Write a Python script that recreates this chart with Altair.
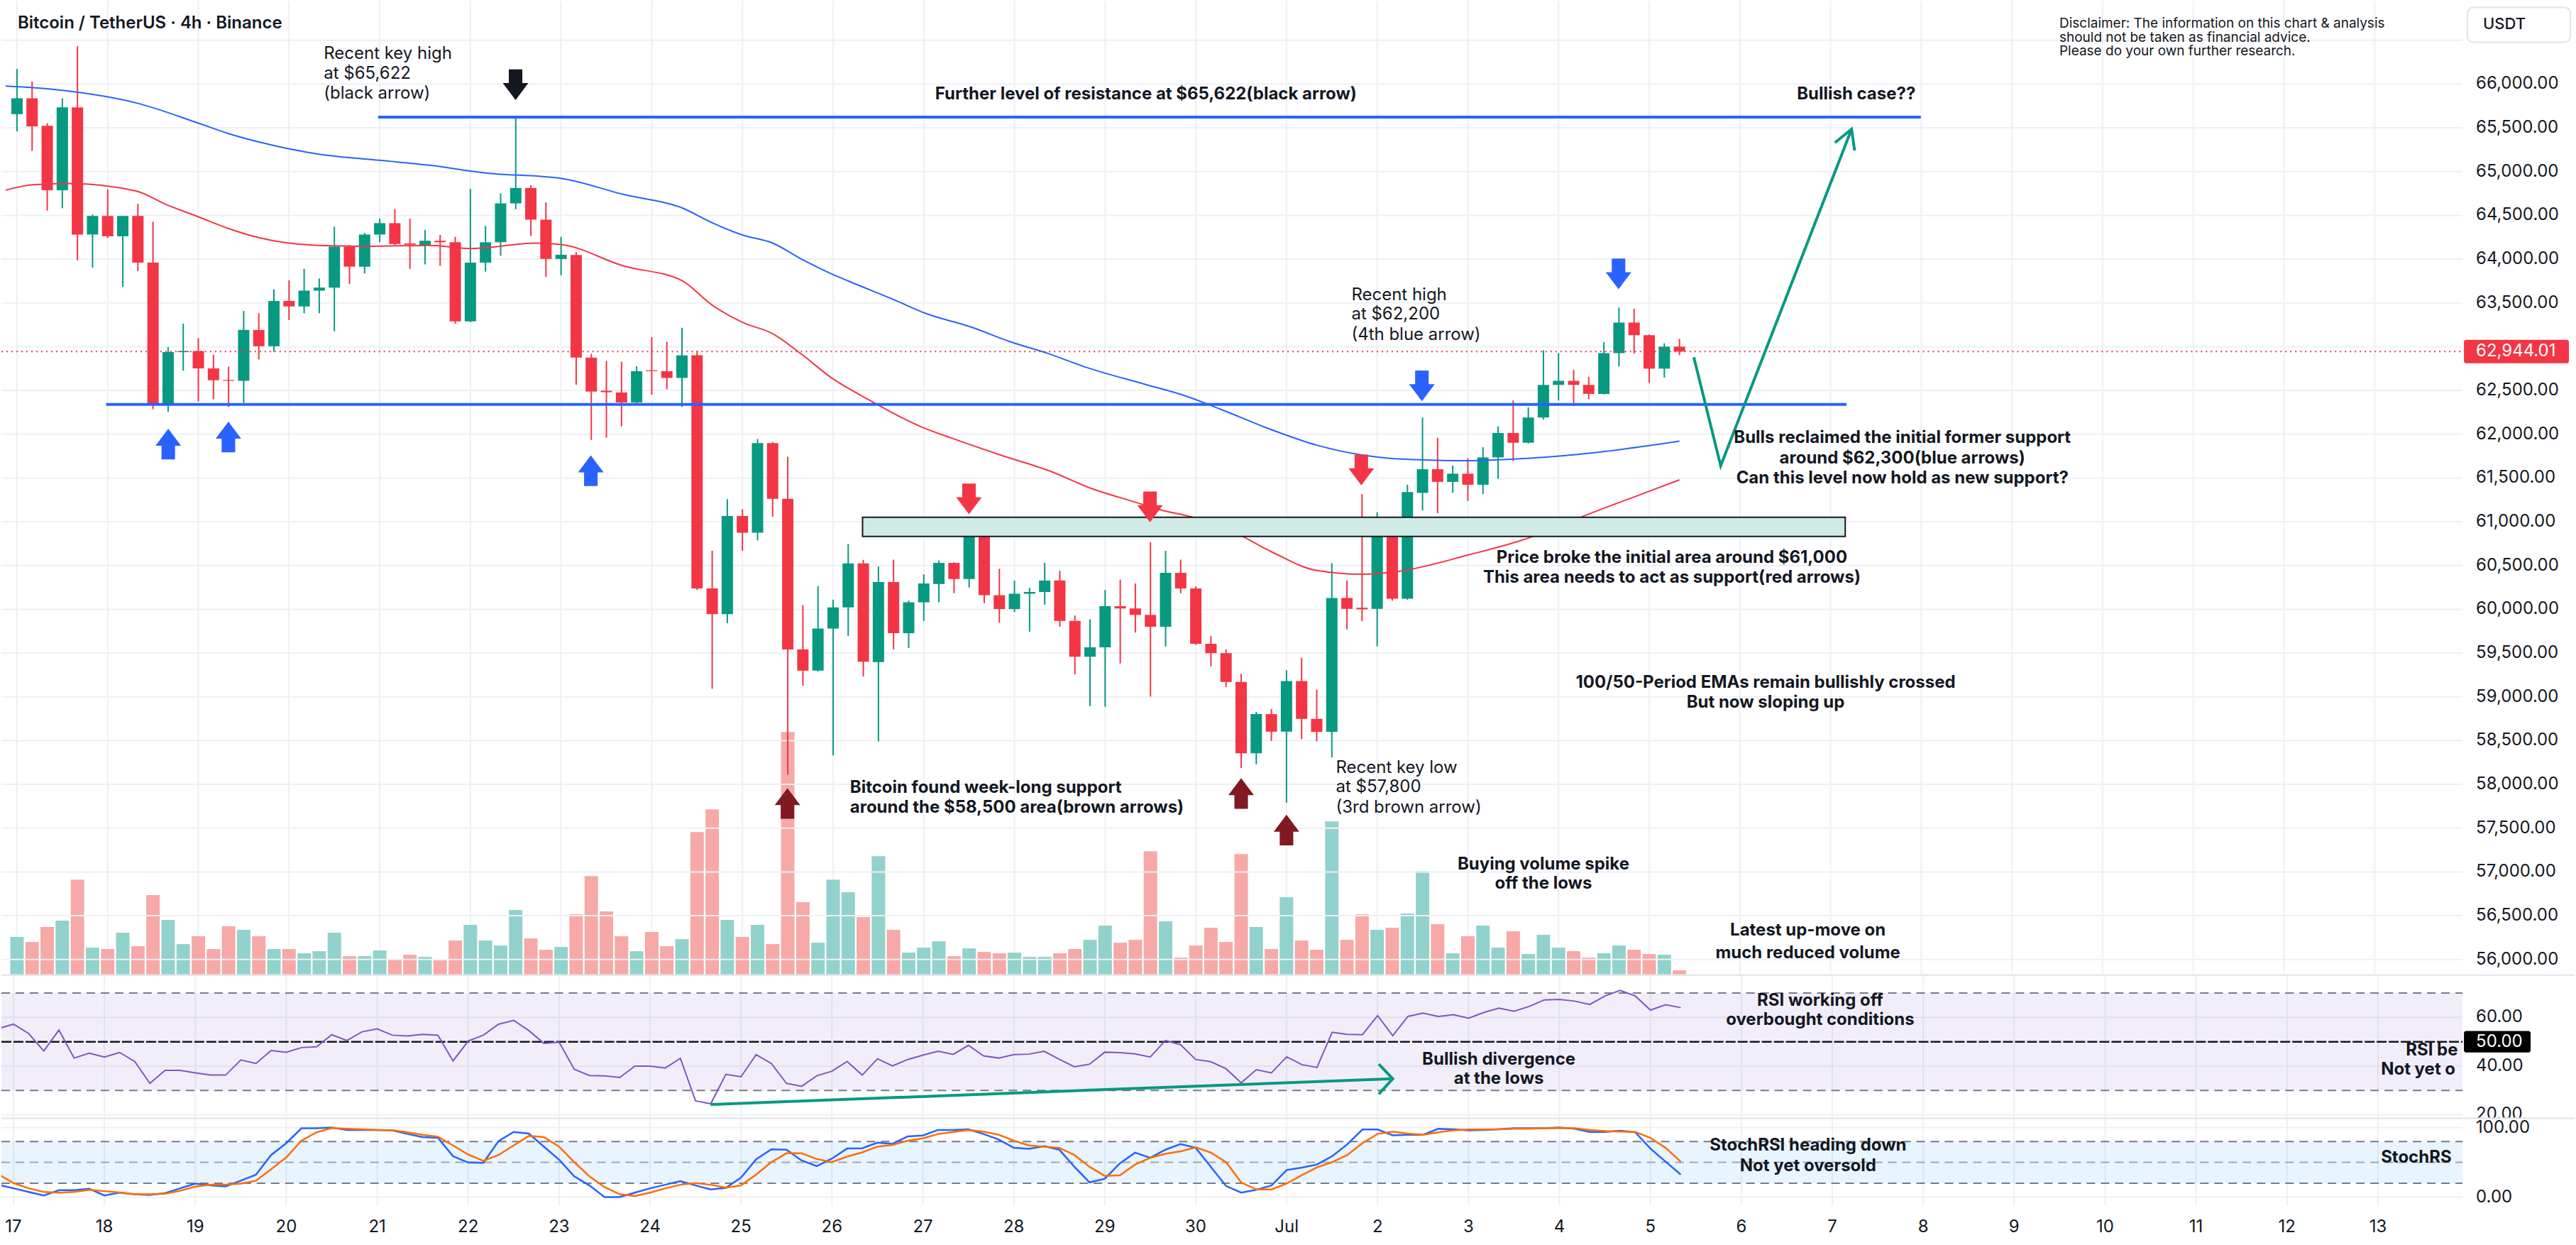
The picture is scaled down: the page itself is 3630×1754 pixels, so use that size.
import altair as alt
import pandas as pd

# ---------------- data (4h candles, k = 0 is 17 Jun 00:00, 6 candles per day) ----------------
opens = [65656, 65837, 65522, 64788, 65734, 64281, 64493, 64261, 64493, 63961,
         62348, 62938, 62950, 62752, 62620, 62610, 63191, 63005, 63522, 63460,
         63640, 63675, 64142, 63914, 64281, 64411, 64180, 64160, 64210, 64193,
         63289, 63960, 64193, 64637, 64813, 64451, 64002, 64048, 62875, 62497,
         62477, 62363, 62730, 62720, 62643, 62901, 60239, 59945, 61066, 60875,
         61898, 61263, 59542, 59299, 59780, 60022, 60524, 59398, 60312, 59727,
         60080, 60289, 60530, 60346, 60833, 60161, 60003, 60178, 60198, 60329,
         59868, 59458, 59566, 60036, 60010, 59936, 59801, 60416, 60238, 59606,
         59499, 59170, 58356, 58803, 58602, 59181, 58749, 58600, 60130, 60018,
         60005, 61051, 60121, 61330, 61600, 61456, 61549, 61423, 61735, 62014,
         61903, 62191, 62563, 62610, 62563, 62461, 62926, 63275, 63131, 62749,
         63000]
highs = [66173, 66028, 65553, 65837, 66431, 64509, 64798, 64493, 64633, 64426,
         62995, 63263, 63098, 62907, 62772, 63408, 63382, 63656, 63759, 63889,
         63780, 64369, 64160, 64300, 64462, 64571, 64462, 64333, 64276, 64255,
         64803, 64379, 64751, 65622, 64844, 64648, 64255, 64080, 62917, 62839,
         62829, 62777, 63108, 63056, 63216, 62953, 60668, 61258, 61144, 61945,
         61910, 61743, 60048, 60265, 60110, 60746, 60565, 60490, 60567, 60100,
         60399, 60557, 60537, 60927, 60840, 60463, 60329, 60245, 60530, 60440,
         59929, 59885, 60221, 60339, 60295, 60766, 60668, 60567, 60262, 59694,
         59543, 59264, 58827, 58860, 59304, 59446, 59083, 60526, 60330, 61316,
         61107, 61060, 61423, 62191, 61958, 61642, 61726, 61851, 62089, 62386,
         62307, 62959, 62926, 62735, 62656, 63052, 63447, 63433, 63140, 63038,
         63089]
lows = [65460, 65237, 64555, 64581, 63987, 63904, 64240, 63682, 63863, 62286,
        62256, 62726, 62374, 62400, 62312, 62359, 62855, 62943, 63305, 63382,
        63382, 63175, 63718, 63837, 64193, 64160, 63889, 63940, 63925, 63263,
        63280, 63857, 64038, 64570, 64265, 63795, 63816, 62565, 61935, 61960,
        62090, 62350, 62451, 62513, 62312, 60220, 59092, 59841, 60668, 60787,
        61056, 58110, 59128, 59290, 58332, 59697, 59232, 58491, 59542, 59559,
        59868, 60080, 60184, 60248, 60070, 59845, 59969, 59744, 60053, 59801,
        59257, 58894, 58887, 59381, 59734, 59002, 59576, 60184, 59593, 59348,
        59112, 58188, 58229, 58498, 57792, 58516, 58493, 58307, 59772, 59865,
        59577, 60098, 60110, 61130, 61098, 61330, 61237, 61316, 61493, 61693,
        61895, 62168, 62386, 62321, 62400, 62455, 62772, 62921, 62586, 62647,
        62903]
closes = [65837, 65516, 64788, 65734, 64281, 64493, 64261, 64493, 63961, 62348,
          62938, 62950, 62752, 62617, 62610, 63191, 63005, 63522, 63460, 63640,
          63675, 64142, 63914, 64281, 64411, 64173, 64165, 64210, 64193, 63289,
          63960, 64193, 64637, 64813, 64451, 64002, 64050, 62875, 62487, 62480,
          62363, 62720, 62720, 62643, 62901, 60239, 59945, 61066, 60875, 61898,
          61263, 59542, 59299, 59780, 60022, 60524, 59402, 60312, 59727, 60080,
          60295, 60530, 60346, 60833, 60161, 60003, 60178, 60198, 60329, 59868,
          59458, 59566, 60036, 60010, 59936, 59801, 60416, 60238, 59606, 59499,
          59170, 58356, 58803, 58602, 59180, 58749, 58600, 60130, 60005, 60000,
          61051, 60121, 61340, 61600, 61456, 61549, 61423, 61735, 62014, 61903,
          62191, 62563, 62610, 62563, 62461, 62926, 63275, 63131, 62749, 63000,
          62944.01]
volumes = [1580, 1370, 2000, 2270, 4010, 1130, 1070, 1760, 1190, 3350,
           2300, 1280, 1610, 1070, 2030, 1880, 1610, 1070, 1070, 890,
           980, 1760, 770, 770, 1010, 650, 830, 740, 590, 1430,
           2090, 1430, 1220, 2720, 1520, 1040, 1160, 2540, 4160, 2660,
           1610, 980, 1790, 1190, 1490, 6020, 6980, 2300, 1580, 2090,
           1280, 10250, 3050, 1340, 4010, 3470, 2420, 5000, 1880, 920,
           1130, 1400, 770, 1100, 950, 890, 920, 740, 740, 890,
           1070, 1460, 2060, 1340, 1460, 5210, 2240, 710, 1220, 1970,
           1370, 5090, 2000, 1070, 3260, 1430, 1040, 6470, 1460, 2540,
           1880, 1970, 2570, 4370, 2120, 890, 1610, 2060, 1130, 1820,
           860, 1670, 1130, 980, 710, 890, 1220, 1040, 860, 830,
           170]

# indicators, index k = -1 .. 110
rsi_values = [55.4,
              57.2, 53.4, 46.2, 54.8, 43.3, 45.3, 43.7, 45.6, 41.9, 32.9,
              38.2, 38.2, 37.2, 36.3, 36.3, 42.5, 41.1, 46.4, 45.7, 47.6,
              47.9, 52.9, 50.5, 54.1, 55.3, 52.7, 52.4, 53.0, 52.7, 42.1,
              50.3, 52.7, 57.2, 58.8, 54.6, 49.3, 49.8, 38.7, 36.1, 36.0,
              35.3, 40.0, 40.0, 39.2, 43.2, 25.7, 24.5, 36.6, 35.6, 44.7,
              41.1, 32.9, 31.7, 36.0, 37.9, 41.9, 36.3, 43.0, 40.1, 42.7,
              44.5, 46.1, 44.8, 48.5, 44.2, 43.3, 44.7, 44.9, 46.1, 42.8,
              39.7, 40.8, 45.7, 45.5, 45.0, 43.7, 50.5, 48.8, 42.7, 41.8,
              38.9, 33.1, 38.5, 37.2, 43.8, 40.6, 39.4, 53.9, 53.0, 52.9,
              60.7, 52.5, 60.4, 61.8, 60.4, 61.1, 59.7, 62.0, 63.8, 62.5,
              64.5, 67.2, 67.4, 66.7, 65.3, 68.8, 71.1, 68.8, 63.0, 65.2,
              64.0]
stoch_k = [17.8,
           12.7, 7.5, 2.4, 9.9, 9.9, 12.0, 2.4, 6.5, 4.1, 3.1,
           5.8, 12.7, 19.5, 16.8, 15.4, 23.6, 32.2, 60.6, 77.7, 99.0,
           99.0, 100.0, 96.6, 96.6, 96.6, 95.9, 90.8, 86.3, 85.3, 58.9,
           49.7, 49.3, 80.5, 93.8, 91.4, 72.6, 53.8, 29.8, 16.8, 0.0,
           0.0, 6.5, 12.7, 17.8, 22.9, 16.8, 11.0, 13.4, 28.1, 54.5,
           68.8, 68.2, 52.7, 44.5, 55.5, 69.9, 70.2, 78.4, 76.7, 87.3,
           88.7, 96.6, 96.6, 97.6, 90.8, 82.9, 70.9, 69.5, 73.3, 68.2,
           43.5, 21.2, 26.4, 48.6, 64.0, 56.5, 68.2, 76.4, 70.9, 43.5,
           16.1, 6.5, 10.6, 16.8, 39.0, 42.5, 46.9, 58.9, 76.0, 97.3,
           97.3, 89.0, 89.7, 89.7, 98.3, 97.6, 95.9, 96.6, 97.6, 99.0,
           99.0, 99.0, 100.0, 98.3, 93.8, 93.8, 95.5, 93.2, 69.9, 51.0,
           32.5]
stoch_d = [33.1,
           20.2, 12.7, 7.5, 6.5, 7.5, 10.6, 8.6, 6.8, 4.1, 4.1,
           4.8, 9.2, 15.1, 17.8, 17.8, 19.5, 23.6, 40.1, 57.2, 81.2,
           93.2, 99.3, 98.3, 97.6, 96.6, 96.2, 93.2, 89.7, 87.0, 74.3,
           61.3, 52.1, 60.6, 74.3, 88.0, 86.3, 72.6, 50.3, 29.8, 14.4,
           4.1, 1.7, 6.5, 12.7, 17.8, 20.2, 17.8, 13.7, 16.8, 32.5,
           50.3, 63.0, 63.0, 54.8, 50.3, 58.2, 64.4, 72.6, 75.0, 81.2,
           84.6, 90.8, 93.8, 96.6, 94.2, 89.7, 81.2, 74.3, 72.6, 70.9,
           60.6, 43.5, 30.5, 31.5, 46.9, 56.5, 62.3, 65.8, 71.6, 64.0,
           50.3, 21.2, 11.0, 11.0, 19.5, 31.5, 42.8, 50.3, 60.6, 77.7,
           90.8, 94.2, 91.4, 89.7, 93.2, 95.9, 97.3, 97.3, 97.6, 98.3,
           98.3, 99.0, 99.3, 99.0, 96.6, 94.9, 94.2, 93.8, 85.3, 70.9,
           51.0]

ema100_idx = [-0.75, 2.9, 8.1, 12.0, 14.0, 16.2, 19.9, 24.0, 27.3, 31.0, 36.0, 40.2,
              44.0, 46.0, 48.0, 50.0, 51.9, 53.9, 55.05, 58.1, 60.1, 63.2, 65.7, 68.2,
              70.8, 74.6, 77.1, 79.6, 82.9, 86.0, 89.0, 91.1, 96.0, 100.1, 104.7, 110.0]
ema100_val = [65976, 65930, 65775, 65553, 65434, 65330, 65201, 65129, 65072, 64984, 64922, 64736,
              64586, 64415, 64276, 64183, 64002, 63831, 63747, 63531, 63382, 63220, 63058, 62923,
              62761, 62572, 62450, 62288, 62059, 61875, 61762, 61721, 61698, 61726, 61796, 61921]
ema50_idx = [-0.75, 1.05, 3.5, 7.9, 9.9, 12.0, 14.0, 15.9, 19.9, 23.3, 27.3, 30.1, 34.3,
             36.0, 40.1, 44.0, 46.0, 48.0, 50.0, 51.9, 53.9, 56.3, 59.8, 61.8, 65.0,
             68.3, 71.1, 73.9, 75.7, 77.6, 80.0, 83.0, 85.9, 89.0, 91.4, 96.0, 100.1,
             103.8, 107.5, 110.0]
ema50_val = [64788, 64850, 64865, 64777, 64622, 64483, 64349, 64250, 64157, 64147, 64157, 64121, 64183,
             64167, 63924, 63754, 63475, 63278, 63149, 62916, 62643, 62400, 62086, 61958, 61767,
             61582, 61380, 61229, 61135, 61061, 60927, 60658, 60447, 60400, 60433, 60619, 60819,
             61075, 61316, 61479]

day_labels = ["17", "18", "19", "20", "21", "22", "23", "24", "25", "26", "27", "28", "29", "30",
              "Jul", "2", "3", "4", "5", "6", "7", "8", "9", "10", "11", "12", "13"]
price_ticks = [56000 + 500 * i for i in range(22)]          # 56,000 .. 66,500
price_labels = [56000 + 500 * i for i in range(21) if 56000 + 500 * i != 63000]
rsi_ticks = [20, 40, 60]
stoch_ticks = [0, 100]

# ---------------- styling ----------------
GREEN, RED, BLUE, INK, BROWN = "#089981", "#f23645", "#2962ff", "#131722", "#801922"
GRID = "#eef0f3"
FONT = "Inter"
W = 3470
H_TOP, H_RSI, H_ST = 1372, 200, 122
K_DOM = [-0.7955, 161.58]
P_DOM = [55830, 66948]
V_DOM = [0, 41160]
R_DOM = [18.8, 77.1]
S_DOM = [-12.24, 112.24]

xs = alt.Scale(domain=K_DOM, nice=False, zero=False)
ps = alt.Scale(domain=P_DOM, nice=False, zero=False)
rs = alt.Scale(domain=R_DOM, nice=False, zero=False)
ss = alt.Scale(domain=S_DOM, nice=False, zero=False)
day_ticks = [6 * i for i in range(len(day_labels))]


def X(field):
    return alt.X(field, type="quantitative", scale=xs, axis=None)


def YP(field):
    return alt.Y(field, type="quantitative", scale=ps, axis=None)


def YR(field):
    return alt.Y(field, type="quantitative", scale=rs, axis=None)


def YS(field):
    return alt.Y(field, type="quantitative", scale=ss, axis=None)


def texts(rows, yfn, align, weight, size=24, color=INK, clip=False):
    df = pd.DataFrame(rows, columns=["k", "v", "t"])
    return alt.Chart(df).mark_text(align=align, baseline="middle", font=FONT, fontSize=size,
                                   fontWeight=weight, color=color, clip=clip).encode(
        x=X("k"), y=yfn("v"), text="t:N")


def vgrid(h):
    return alt.Chart(pd.DataFrame({"k": day_ticks})).mark_rule(color=GRID, strokeWidth=2).encode(
        x=X("k"), y=alt.value(0), y2=alt.value(h))


def hgrid(vals, yfn):
    return alt.Chart(pd.DataFrame({"v": vals})).mark_rule(color=GRID, strokeWidth=2).encode(
        x=alt.value(0), x2=alt.value(W), y=yfn("v"))


def ylabels(vals, yfn):
    df = pd.DataFrame({"v": vals, "t": ["{:,.2f}".format(v) for v in vals]})
    return alt.Chart(df).mark_text(align="left", baseline="middle", font=FONT, fontSize=24,
                                   color=INK).encode(x=alt.value(3489), y=yfn("v"), text="t:N")


one = pd.DataFrame({"a": [0]})

# ---------------- price pane ----------------
cd = pd.DataFrame({"k": list(range(len(opens))), "open": opens, "high": highs, "low": lows,
                   "close": closes, "volume": volumes})
is_up = alt.datum.close >= alt.datum.open

vol_layer = alt.Chart(cd).mark_bar(size=19).encode(
    x=X("k"),
    y=alt.Y("volume:Q", scale=alt.Scale(domain=V_DOM, nice=False), axis=None),
    color=alt.condition(is_up, alt.value("#92d2cc"), alt.value("#f7a9a7")),
)

wicks = alt.Chart(cd).mark_rule(strokeWidth=2).encode(
    x=X("k"), y=YP("low"), y2="high:Q",
    color=alt.condition(is_up, alt.value(GREEN), alt.value(RED)))
bodies = alt.Chart(cd).mark_bar(size=16).encode(
    x=X("k"), y=YP("open"), y2="close:Q",
    color=alt.condition(is_up, alt.value(GREEN), alt.value(RED)))

ema100 = alt.Chart(pd.DataFrame({"k": ema100_idx, "v": ema100_val})).mark_line(
    color=BLUE, strokeWidth=2, interpolate="monotone", clip=True).encode(x=X("k"), y=YP("v"))
ema50 = alt.Chart(pd.DataFrame({"k": ema50_idx, "v": ema50_val})).mark_line(
    color=RED, strokeWidth=2, interpolate="monotone", clip=True).encode(x=X("k"), y=YP("v"))

levels = alt.Chart(pd.DataFrame({"k1": [23.9, 5.9], "k2": [125.97, 121.06], "p": [65622, 62340]})
                   ).mark_rule(color=BLUE, strokeWidth=4).encode(x=X("k1"), x2="k2:Q", y=YP("p"))

zone = alt.Chart(pd.DataFrame({"k1": [55.95], "k2": [120.97], "p1": [61051], "p2": [60833]})
                 ).mark_rect(fill="#cfeae5", stroke=INK, strokeWidth=2).encode(
    x=X("k1"), x2="k2:Q", y=YP("p1"), y2="p2:Q")

last_line = alt.Chart(pd.DataFrame({"p": [62944.01]})).mark_rule(
    color=RED, strokeWidth=2, strokeDash=[2, 5]).encode(
    x=alt.value(0), x2=alt.value(W), y=YP("p"))

path_df = pd.DataFrame({"k": [110.95, 112.73, 121.39], "p": [62880, 61640, 65485], "o": [0, 1, 2]})
path = alt.Chart(path_df).mark_line(color=GREEN, strokeWidth=4).encode(
    x=X("k"), y=YP("p"), order="o:Q")
head_df = pd.DataFrame({"k": [120.29, 121.39, 121.59], "p": [65330, 65485, 65241], "o": [0, 1, 2]})
head = alt.Chart(head_df).mark_line(color=GREEN, strokeWidth=4).encode(
    x=X("k"), y=YP("p"), order="o:Q")

UP = "M0,-1.2L1,0.13L0.53,0.13L0.53,1.2L-0.53,1.2L-0.53,0.13L-1,0.13Z"
DOWN = "M0,1.2L1,-0.13L0.53,-0.13L0.53,-1.2L-0.53,-1.2L-0.53,-0.13L-1,-0.13Z"
up_df = pd.DataFrame({"k": [10.01, 13.99, 37.97, 50.98, 81.0, 84.0],
                      "p": [61887, 61968, 61583, 57782, 57896, 57479],
                      "c": [BLUE, BLUE, BLUE, BROWN, BROWN, BROWN]})
down_df = pd.DataFrame({"k": [92.96, 105.97, 62.99, 74.97, 88.95, 32.99],
                        "p": [62552, 63832, 61261, 61170, 61591, 65992],
                        "c": [BLUE, BLUE, RED, RED, RED, INK]})
up_arrows = alt.Chart(up_df).mark_point(shape=UP, filled=True, size=1296, opacity=1, strokeWidth=0).encode(
    x=X("k"), y=YP("p"), color=alt.Color("c:N", scale=None))
down_arrows = alt.Chart(down_df).mark_point(shape=DOWN, filled=True, size=1296, opacity=1, strokeWidth=0).encode(
    x=X("k"), y=YP("p"), color=alt.Color("c:N", scale=None))

t_regular = texts([
    (20.30, 66340, "Recent key high"), (20.30, 66113, "at $65,622"), (20.30, 65887, "(black arrow)"),
    (88.30, 63585, "Recent high"), (88.30, 63366, "at $62,200"), (88.30, 63131, "(4th blue arrow)"),
    (87.27, 58188, "Recent key low"), (87.27, 57969, "at $57,800"), (87.27, 57734, "(3rd brown arrow)"),
], YP, "left", "normal")
t_left_bold = texts([
    (55.12, 57961, "Bitcoin found week-long support"),
    (55.12, 57734, "around the $58,500 area(brown arrows)"),
], YP, "left", "bold")
t_center_bold = texts([
    (74.7, 65878, "Further level of resistance at $65,622(black arrow)"),
    (121.7, 65878, "Bullish case??"),
    (124.75, 61956, "Bulls reclaimed the initial former support"),
    (124.75, 61721, "around $62,300(blue arrows)"),
    (124.75, 61494, "Can this level now hold as new support?"),
    (109.5, 60586, "Price broke the initial area around $61,000"),
    (109.5, 60363, "This area needs to act as support(red arrows)"),
    (115.7, 59160, "100/50-Period EMAs remain bullishly crossed"),
    (115.7, 58933, "But now sloping up"),
    (101.0, 57086, "Buying volume spike"), (101.0, 56867, "off the lows"),
    (118.5, 56330, "Latest up-move on"), (118.5, 56070, "much reduced volume"),
], YP, "center", "bold")
t_title = texts([(0.05, 66689, "Bitcoin / TetherUS · 4h · Binance")], YP, "left", 600)
t_disc = texts([
    (135.14, 66689, "Disclaimer: The information on this chart & analysis"),
    (135.14, 66527, "should not be taken as financial advice."),
    (135.14, 66373, "Please do your own further research."),
], YP, "left", "normal", size=19)

price_lbls = ylabels(price_labels, YP)
last_box = alt.Chart(pd.DataFrame({"p1": [63078], "p2": [62810]})).mark_rect(
    color=RED, cornerRadius=3).encode(x=alt.value(3472), x2=alt.value(3620), y=YP("p1"), y2="p2:Q")
last_txt = alt.Chart(pd.DataFrame({"p": [62944.01], "t": ["62,944.01"]})).mark_text(
    align="left", baseline="middle", font=FONT, fontSize=24, color="white").encode(
    x=alt.value(3489), y=YP("p"), text="t:N")

usdt_box = alt.Chart(one).mark_rect(fill="white", stroke="#e0e3eb", strokeWidth=2, cornerRadius=8).encode(
    x=alt.value(3477), x2=alt.value(3622), y=alt.value(9), y2=alt.value(58))
usdt_txt = alt.Chart(one).mark_text(text="USDT", font=FONT, fontSize=22, fontWeight=500, color=INK,
                                    align="center", baseline="middle").encode(
    x=alt.value(3529), y=alt.value(33))
sep1 = alt.Chart(one).mark_rule(color="#dfe2e8", strokeWidth=2).encode(
    x=alt.value(0), x2=alt.value(3628), y=alt.value(1373))

price_group = alt.layer(hgrid(price_ticks, YP), wicks, bodies, ema100, ema50, levels, zone,
                        last_line, path, head, up_arrows, down_arrows, t_regular, t_left_bold,
                        t_center_bold, t_title, t_disc, price_lbls, last_box, last_txt,
                        usdt_box, usdt_txt, sep1)
top = alt.layer(vgrid(H_TOP), vol_layer, price_group).resolve_scale(y="independent").properties(
    width=W, height=H_TOP)

# ---------------- RSI pane ----------------
ind_k = list(range(-1, len(opens)))
rsi_df = pd.DataFrame({"k": ind_k, "v": rsi_values})
rsi_band = alt.Chart(pd.DataFrame({"a": [70], "b": [30]})).mark_rect(
    color="#7e57c2", opacity=0.1).encode(x=alt.value(0), x2=alt.value(W), y=YR("a"), y2="b:Q")
rsi_dash = alt.Chart(pd.DataFrame({"v": [70, 30]})).mark_rule(
    color="#787b86", strokeWidth=2, strokeDash=[12, 8]).encode(x=alt.value(0), x2=alt.value(W), y=YR("v"))
rsi_mid = alt.Chart(pd.DataFrame({"v": [50]})).mark_rule(
    color=INK, strokeWidth=2.5, strokeDash=[14, 3]).encode(x=alt.value(0), x2=alt.value(W), y=YR("v"))
rsi_line = alt.Chart(rsi_df).mark_line(color="#7e57c2", strokeWidth=2, clip=True).encode(
    x=X("k"), y=YR("v"))
div_line = alt.Chart(pd.DataFrame({"k": [46.0, 91.0], "v": [24.2, 34.8]})).mark_line(
    color=GREEN, strokeWidth=4).encode(x=X("k"), y=YR("v"))
div_head = alt.Chart(pd.DataFrame({"k": [90.08, 91.0, 90.08], "v": [40.8, 34.8, 28.5], "o": [0, 1, 2]})
                     ).mark_line(color=GREEN, strokeWidth=4).encode(x=X("k"), y=YR("v"), order="o:Q")
rsi_t1 = texts([
    (119.2, 66.8, "RSI working off"), (119.2, 58.8, "overbought conditions"),
    (98.0, 42.5, "Bullish divergence"), (98.0, 34.8, "at the lows"),
], YR, "center", "bold")
# these two notes are cut off by the price scale in the reference; only the visible part is kept
rsi_t2 = texts([(157.84, 46.4, "RSI be"), (156.2, 38.5, "Not yet o")],
               YR, "left", "bold", clip=True)
rsi_lbls = ylabels(rsi_ticks, YR)
rsi_lbl_box = alt.Chart(pd.DataFrame({"a": [54.4], "b": [45.6]})).mark_rect(
    color="#000000", cornerRadius=3).encode(x=alt.value(3472), x2=alt.value(3566), y=YR("a"), y2="b:Q")
rsi_lbl = alt.Chart(pd.DataFrame({"v": [50], "t": ["50.00"]})).mark_text(
    align="left", baseline="middle", font=FONT, fontSize=24, color="white").encode(
    x=alt.value(3489), y=YR("v"), text="t:N")

rsi_pane = alt.layer(vgrid(H_RSI), hgrid(rsi_ticks, YR), rsi_band, rsi_dash, rsi_mid, rsi_line,
                     div_line, div_head, rsi_t1, rsi_t2, rsi_lbls, rsi_lbl_box, rsi_lbl
                     ).properties(width=W, height=H_RSI)

# ---------------- Stoch RSI pane ----------------
st_df = pd.DataFrame({"k": ind_k, "kk": stoch_k, "dd": stoch_d})
st_band = alt.Chart(pd.DataFrame({"a": [80], "b": [20]})).mark_rect(
    color="#2196f3", opacity=0.1).encode(x=alt.value(0), x2=alt.value(W), y=YS("a"), y2="b:Q")
st_dash = alt.Chart(pd.DataFrame({"v": [80, 20]})).mark_rule(
    color="#787b86", strokeWidth=2, strokeDash=[12, 8]).encode(x=alt.value(0), x2=alt.value(W), y=YS("v"))
st_mid = alt.Chart(pd.DataFrame({"v": [50]})).mark_rule(
    color="#a3a6af", strokeWidth=2, strokeDash=[12, 8]).encode(x=alt.value(0), x2=alt.value(W), y=YS("v"))
st_k = alt.Chart(st_df).mark_line(color=BLUE, strokeWidth=2.5, clip=True).encode(
    x=X("k"), y=YS("kk"))
st_d = alt.Chart(st_df).mark_line(color="#ff6d00", strokeWidth=2.5, clip=True).encode(
    x=X("k"), y=YS("dd"))
st_t1 = texts([(118.4, 74.2, "StochRSI heading down"), (118.4, 44.6, "Not yet oversold")],
              YS, "center", "bold")
st_t2 = texts([(156.2, 57.1, "StochRS")], YS, "left", "bold", clip=True)
st_lbls = ylabels(stoch_ticks, YS)
x_lbls = alt.Chart(pd.DataFrame({"k": day_ticks, "t": day_labels})).mark_text(
    align="center", baseline="middle", font=FONT, fontSize=24, color=INK).encode(
    x=X("k"), y=alt.value(H_ST + 30), text="t:N")
cover = alt.Chart(one).mark_rect(fill="white").encode(
    x=alt.value(3471), x2=alt.value(3630), y=alt.value(-2), y2=alt.value(3))
sep2 = alt.Chart(one).mark_rule(color="#dfe2e8", strokeWidth=2).encode(
    x=alt.value(0), x2=alt.value(3628), y=alt.value(-1))

st_pane = alt.layer(vgrid(H_ST), hgrid(stoch_ticks, YS), st_band, st_dash, st_mid, st_k, st_d,
                    st_t1, st_t2, cover, sep2, st_lbls, x_lbls).properties(width=W, height=H_ST)

chart = alt.vconcat(top, rsi_pane, st_pane, spacing=2, bounds="flush").resolve_scale(
    x="independent", y="independent").properties(
    padding=0, background="white").configure(font=FONT).configure_view(stroke=None)

chart.save("out.html", embed_options={"renderer": "svg", "actions": False})
